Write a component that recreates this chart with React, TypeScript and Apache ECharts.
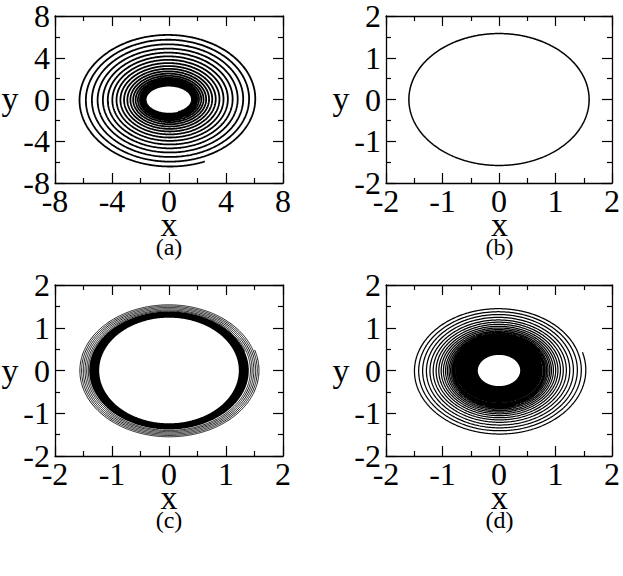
import React, { useEffect, useRef } from "react";
import * as echarts from "echarts";

// ---------- data ----------
// Panel (a): x- and y-radius of each successive turn of the spiral (outer -> inner)
const spiralA_rx = [6.42, 5.97, 5.54, 5.13, 4.75, 4.4, 4.07, 3.77, 3.49, 3.23, 2.99, 2.77, 2.57, 2.39, 2.23, 2.08, 1.95, 1.84, 1.74, 1.66, 1.6];
const spiralA_ry = [6.45, 5.98, 5.53, 5.1, 4.7, 4.33, 3.98, 3.66, 3.36, 3.08, 2.83, 2.6, 2.38, 2.18, 2.0, 1.84, 1.69, 1.56, 1.45, 1.36, 1.3];
const spiralA_tipDeg = -67;

// Panel (b): closed orbit radii
const orbitB_rx = [1.595, 1.595];
const orbitB_ry = [1.58, 1.58];

// Panel (c): separate outer turns, then dense band (outer edge, inner edge)
const spiralC_rx = [1.58, 1.55, 1.52, 1.49, 1.46, 1.43, 1.405];
const spiralC_ry = [1.56, 1.53, 1.5, 1.47, 1.44, 1.41, 1.385];
const spiralC_tipDeg = 18;
const bandC_rx = [1.4, 1.225];
const bandC_ry = [1.38, 1.235];

// Panel (d): separate outer turns, then dense band
const spiralD_rx = [1.54, 1.46, 1.39, 1.32, 1.255, 1.195, 1.14, 1.09, 1.045, 1.005, 0.965, 0.93, 0.9, 0.87, 0.845, 0.82, 0.8, 0.785, 0.77];
const spiralD_ry = [1.51, 1.43, 1.36, 1.295, 1.23, 1.17, 1.12, 1.07, 1.025, 0.985, 0.95, 0.915, 0.885, 0.855, 0.83, 0.805, 0.785, 0.77, 0.755];
const spiralD_tipDeg = 16.5;
const bandD_rx = [0.775, 0.375];
const bandD_ry = [0.76, 0.365];

// axis ranges and tick steps
const rangeA = [-8, 8];
const stepA = 4;
const rangeBCD = [-2, 2];
const stepBCD = 1;

const panelLabels = ["(a)", "(b)", "(c)", "(d)"];
const xTitle = "x";
const yTitle = "y";

// ---------- helpers ----------
function buildSpiral(rx: number[], ry: number[], tipDeg: number, steps = 720) {
  const pts: number[][] = [];
  const n = rx.length - 1;
  const total = n * steps;
  for (let i = 0; i <= total; i++) {
    const t = i / steps;
    const k = Math.min(Math.floor(t), n - 1);
    const f = t - k;
    const a = rx[k] + (rx[k + 1] - rx[k]) * f;
    const b = ry[k] + (ry[k + 1] - ry[k]) * f;
    const th = (tipDeg * Math.PI) / 180 - 2 * Math.PI * t;
    pts.push([a * Math.cos(th), b * Math.sin(th)]);
  }
  return pts;
}

function buildEllipse(rx: number, ry: number, n = 360) {
  const pts: number[][] = [];
  for (let i = 0; i < n; i++) {
    const th = (2 * Math.PI * i) / n;
    pts.push([rx * Math.cos(th), ry * Math.sin(th)]);
  }
  return pts;
}

const FONT = "'Times New Roman', 'Liberation Serif', Times, serif";

const grids = [
  { left: 55, top: 13, width: 228, height: 170 },
  { left: 386, top: 13, width: 227, height: 170 },
  { left: 55, top: 285, width: 228, height: 171 },
  { left: 386, top: 285, width: 227, height: 171 },
];

function axisCommon(range: number[], step: number, showLabel: boolean, isX: boolean) {
  return {
    type: "value",
    min: range[0],
    max: range[1],
    interval: step,
    axisLine: { show: true, onZero: false, lineStyle: { color: "#000", width: 1.3 } },
    axisTick: { show: true, inside: true, length: 10, lineStyle: { color: "#000", width: 1.2 } },
    minorTick: { show: true, splitNumber: 2, length: 5, lineStyle: { color: "#000", width: 1.2 } },
    splitLine: { show: false },
    minorSplitLine: { show: false },
    axisLabel: {
      show: showLabel,
      color: "#000",
      fontFamily: FONT,
      fontSize: 32,
      margin: isX ? 2 : 5,
    },
  };
}

export default function App() {
  const ref = useRef<HTMLDivElement>(null);
  useEffect(() => {
    if (!ref.current) return;
    const chart = echarts.init(ref.current, undefined, { renderer: "svg" });

    const xAxis: any[] = [];
    const yAxis: any[] = [];
    grids.forEach((_, i) => {
      const range = i === 0 ? rangeA : rangeBCD;
      const step = i === 0 ? stepA : stepBCD;
      xAxis.push({ ...axisCommon(range, step, true, true), gridIndex: i, position: "bottom" });
      xAxis.push({ ...axisCommon(range, step, false, true), gridIndex: i, position: "top" });
      yAxis.push({ ...axisCommon(range, step, true, false), gridIndex: i, position: "left" });
      yAxis.push({ ...axisCommon(range, step, false, false), gridIndex: i, position: "right" });
    });

    const lineSeries = (data: number[][], idx: number, width: number) => ({
      type: "line",
      xAxisIndex: idx * 2,
      yAxisIndex: idx * 2,
      data,
      showSymbol: false,
      symbol: "none",
      smooth: false,
      lineStyle: { color: "#000", width },
      z: 3,
      silent: true,
    });

    const bandSeries = (brx: number[], bry: number[], idx: number) => {
      const outer = buildEllipse(brx[0], bry[0]);
      const inner = buildEllipse(brx[1], bry[1]);
      return {
        type: "custom",
        coordinateSystem: "cartesian2d",
        xAxisIndex: idx * 2,
        yAxisIndex: idx * 2,
        data: [[0, 0]],
        silent: true,
        z: 2,
        renderItem: (_p: any, api: any) => ({
          type: "group",
          children: [
            { type: "polygon", shape: { points: outer.map((p) => api.coord(p)) }, style: { fill: "#000" } },
            { type: "polygon", shape: { points: inner.map((p) => api.coord(p)) }, style: { fill: "#fff" } },
          ],
        }),
      };
    };

    const series: any[] = [
      lineSeries(buildSpiral(spiralA_rx, spiralA_ry, spiralA_tipDeg), 0, 1.8),
      lineSeries(buildSpiral(orbitB_rx, orbitB_ry, 0), 1, 1.5),
      bandSeries(bandC_rx, bandC_ry, 2),
      lineSeries(buildSpiral(spiralC_rx, spiralC_ry, spiralC_tipDeg), 2, 0.9),
      bandSeries(bandD_rx, bandD_ry, 3),
      lineSeries(buildSpiral(spiralD_rx, spiralD_ry, spiralD_tipDeg), 3, 1.25),
    ];

    const graphics: any[] = [];
    grids.forEach((g, i) => {
      const cx = g.left + g.width / 2;
      const cy = g.top + g.height / 2;
      const bottom = g.top + g.height;
      graphics.push({
        type: "text",
        x: g.left - 45,
        y: cy,
        style: { text: yTitle, fontFamily: FONT, fontSize: 34, fill: "#000", align: "center", verticalAlign: "middle" },
      });
      graphics.push({
        type: "text",
        x: cx,
        y: bottom + 41,
        style: { text: xTitle, fontFamily: FONT, fontSize: 34, fill: "#000", align: "center", verticalAlign: "middle" },
      });
      graphics.push({
        type: "text",
        x: cx,
        y: bottom + 64,
        style: { text: panelLabels[i], fontFamily: FONT, fontSize: 24, fill: "#000", align: "center", verticalAlign: "middle" },
      });
    });

    chart.setOption({
      animation: false,
      backgroundColor: "#fff",
      grid: grids.map((g) => ({ ...g, containLabel: false })),
      xAxis,
      yAxis,
      series,
      graphic: graphics,
    });
    return () => chart.dispose();
  }, []);

  return (
    <div
      ref={ref}
      style={{ position: "fixed", left: 0, top: 0, width: 623, height: 576, background: "#fff" }}
    />
  );
}
